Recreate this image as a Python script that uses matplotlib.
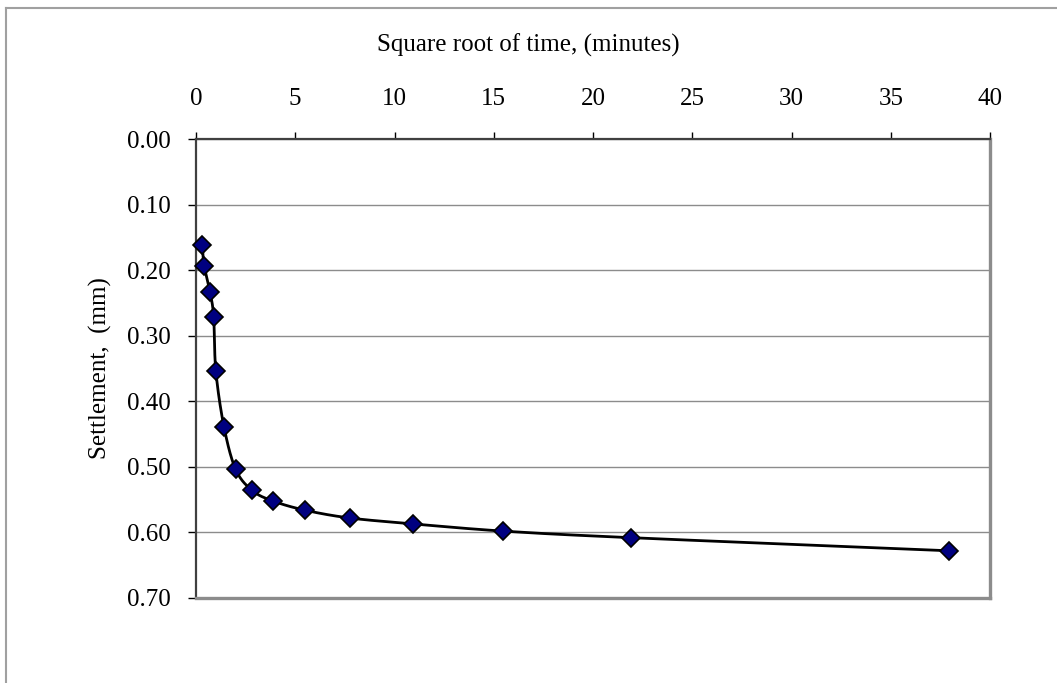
import numpy as np
import matplotlib
matplotlib.use("Agg")
import matplotlib.pyplot as plt
from matplotlib.lines import Line2D

# Square-root-of-time consolidation readings
sqrt_time = [0.32, 0.41, 0.71, 0.89, 1.00, 1.41, 2.00, 2.83, 3.87,
             5.48, 7.75, 10.95, 15.49, 21.91, 37.95]
settlement = [0.162, 0.193, 0.233, 0.272, 0.354, 0.439, 0.504, 0.536, 0.552,
              0.566, 0.578, 0.587, 0.598, 0.608, 0.628]

x_ticks = [0, 5, 10, 15, 20, 25, 30, 35, 40]
y_ticks = [0.0, 0.1, 0.2, 0.3, 0.4, 0.5, 0.6, 0.7]

plt.rcParams["font.family"] = ["Liberation Serif", "DejaVu Serif"]
FS = 18

W, H = 1057, 683
fig = plt.figure(figsize=(W / 100, H / 100), dpi=100)
ax = fig.add_axes([196 / W, 1 - 598 / H, (990 - 196) / W, (598 - 139) / H])

ax.set_xlim(0, 40)
ax.set_ylim(0.7, 0.0)
ax.set_xticks(x_ticks)
ax.set_yticks(y_ticks)
ax.set_yticklabels([f"{v:.2f}" for v in y_ticks])
ax.xaxis.tick_top()
ax.tick_params(axis="x", direction="out", length=5, width=1, colors="#000000",
               labelsize=FS, pad=16)
ax.tick_params(axis="y", direction="out", length=6, width=1, colors="#000000",
               labelsize=FS, pad=12)
ax.yaxis.grid(True, color="#8c8c8c", linewidth=1)
ax.set_axisbelow(True)

for side in ("left", "top"):
    ax.spines[side].set_color("#404040")
    ax.spines[side].set_linewidth(1.6)
for side in ("right", "bottom"):
    ax.spines[side].set_color("#8c8c8c")
    ax.spines[side].set_linewidth(2.4)


def smooth_curve(xs, ys, n=40):
    """Catmull-Rom style smoothing computed in display space."""
    pts = ax.transData.transform(np.column_stack([xs, ys]))
    p = np.vstack([pts[0], pts, pts[-1]])
    out = []
    for i in range(1, len(p) - 2):
        p0, p1, p2, p3 = p[i - 1], p[i], p[i + 1], p[i + 2]
        c1 = p1 + (p2 - p0) / 6.0
        c2 = p2 - (p3 - p1) / 6.0
        t = np.linspace(0, 1, n)[:, None]
        seg = ((1 - t) ** 3) * p1 + 3 * ((1 - t) ** 2) * t * c1 \
            + 3 * (1 - t) * t ** 2 * c2 + t ** 3 * p2
        out.append(seg if i == 1 else seg[1:])
    curve = np.vstack(out)
    data = ax.transData.inverted().transform(curve)
    return data[:, 0], data[:, 1]


cx, cy = smooth_curve(sqrt_time, settlement)
ax.plot(cx, cy, color="black", linewidth=2, zorder=3, clip_on=False)
ax.plot(sqrt_time, settlement, linestyle="none", marker="D", markersize=9,
        markerfacecolor="#000080", markeredgecolor="black", markeredgewidth=1.2,
        zorder=4, clip_on=False)

fig.text(528 / W, 1 - 45 / H, "Square root of time, (minutes)",
         ha="center", va="center", fontsize=FS)
fig.text(100 / W, 1 - 368 / H, "Settlement,  (mm)", rotation=90,
         ha="center", va="center", fontsize=FS)

# Chart-area frame along the top and left edges
fig.add_artist(Line2D([6 / W, 1.0], [1 - 8 / H, 1 - 8 / H], color="#a0a0a0",
                      linewidth=1.5, transform=fig.transFigure))
fig.add_artist(Line2D([6 / W, 6 / W], [0.0, 1 - 8 / H], color="#a0a0a0",
                      linewidth=1.5, transform=fig.transFigure))

fig.savefig("out.png", dpi=100)
